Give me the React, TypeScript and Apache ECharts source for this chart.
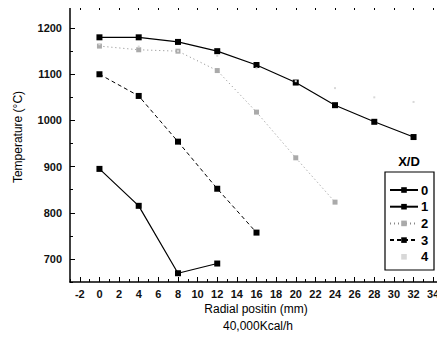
import React, { useEffect, useRef } from "react";
import * as echarts from "echarts";

const seriesNames = ["0", "1", "2", "3", "4"];

const radial0 = [0, 4, 8, 12];
const temp0 = [895, 815, 669, 690];

const radial1 = [0, 4, 8, 12, 16, 20, 24, 28, 32];
const temp1 = [1180, 1180, 1170, 1150, 1120, 1082, 1033, 997, 964];

const radial2 = [0, 4, 8, 12, 16, 20, 24];
const temp2 = [1161, 1153, 1150, 1108, 1018, 919, 823];

const radial3 = [0, 4, 8, 12, 16];
const temp3 = [1100, 1053, 954, 852, 757];

const radial4 = [0, 4, 8, 12, 16, 20, 24, 28, 32];
const temp4 = [1165, 1160, 1150, 1140, 1113, 1085, 1070, 1050, 1040];

const xMajorTicks = [-2, 0, 2, 4, 6, 8, 10, 12, 14, 16, 18, 20, 22, 24, 26, 28, 30, 32, 34];
const xMinorTicks = [-3, -1, 1, 3, 5, 7, 9, 11, 13, 15, 17, 19, 21, 23, 25, 27, 29, 31, 33, 35];
const yMajorTicks = [700, 800, 900, 1000, 1100, 1200];
const yMinorTicks = [650, 750, 850, 950, 1050, 1150, 1250];
const yRightTicks = [650, 700, 750, 800, 850, 900, 950, 1000, 1050, 1100, 1150, 1200, 1250];

const FONT = "Liberation Sans, Arial, sans-serif";

const zip = (xs: number[], ys: number[]) => xs.map((x, i) => [x, ys[i]]);

export default function App() {
  const ref = useRef<HTMLDivElement>(null);
  useEffect(() => {
    if (!ref.current) return;
    const chart = echarts.init(ref.current, undefined, { renderer: "svg" });
    const axisLineStyle = { color: "#000", width: 1.5 };
    const tickStyle = { color: "#000", width: 1 };
    const xBase = { type: "value", min: -3, max: 35, splitLine: { show: false } };
    const yBase = { type: "value", min: 650, max: 1250, splitLine: { show: false } };
    const plain = (v: number) => String(v);
    chart.setOption({
      animation: false,
      textStyle: { fontFamily: FONT },
      grid: { left: 70, right: 2, top: 5, bottom: 59, containLabel: false },
      xAxis: [
        {
          ...xBase,
          position: "bottom",
          axisLine: { show: true, onZero: false, lineStyle: axisLineStyle },
          axisTick: { show: true, inside: true, length: 5, customValues: xMajorTicks, lineStyle: tickStyle },
          axisLabel: { show: true, customValues: xMajorTicks, formatter: plain, margin: 6, fontSize: 11, fontWeight: "bold", color: "#111", fontFamily: FONT },
        },
        {
          ...xBase,
          position: "bottom",
          axisLine: { show: false, onZero: false },
          axisTick: { show: true, inside: true, length: 3, customValues: xMinorTicks, lineStyle: tickStyle },
          axisLabel: { show: false },
        },
        {
          ...xBase,
          position: "top",
          axisLine: { show: true, onZero: false, lineStyle: axisLineStyle },
          axisTick: { show: true, inside: true, length: 5, customValues: xMajorTicks, lineStyle: tickStyle },
          axisLabel: { show: false },
        },
        {
          ...xBase,
          position: "top",
          axisLine: { show: false, onZero: false },
          axisTick: { show: true, inside: true, length: 3, customValues: xMinorTicks, lineStyle: tickStyle },
          axisLabel: { show: false },
        },
      ],
      yAxis: [
        {
          ...yBase,
          position: "left",
          axisLine: { show: true, onZero: false, lineStyle: axisLineStyle },
          axisTick: { show: true, inside: true, length: 5, customValues: yMajorTicks, lineStyle: tickStyle },
          axisLabel: { show: true, customValues: yMajorTicks, formatter: plain, margin: 8, fontSize: 11, fontWeight: "bold", color: "#111", fontFamily: FONT },
        },
        {
          ...yBase,
          position: "left",
          axisLine: { show: false, onZero: false },
          axisTick: { show: true, inside: true, length: 3, customValues: yMinorTicks, lineStyle: tickStyle },
          axisLabel: { show: false },
        },
        {
          ...yBase,
          position: "right",
          axisLine: { show: true, onZero: false, lineStyle: axisLineStyle },
          axisTick: { show: true, inside: true, length: 4, customValues: yRightTicks, lineStyle: tickStyle },
          axisLabel: { show: false },
        },
      ],
      legend: {
        data: seriesNames,
        orient: "vertical",
        left: 389,
        top: 183,
        padding: 0,
        itemWidth: 28,
        itemHeight: 7,
        itemGap: 2.7,
        align: "left",
        textStyle: { fontSize: 13, fontWeight: "bold", color: "#000", fontFamily: FONT, lineHeight: 14, padding: [0, 0, 0, -2] },
      },
      graphic: [
        {
          type: "rect",
          shape: { x: 385, y: 172, width: 49, height: 98 },
          style: { fill: "none", stroke: "#000", lineWidth: 1.2 },
          z: 10,
        },
        {
          type: "text",
          x: 409,
          y: 161,
          style: { text: "X/D", fontSize: 13, fontWeight: "bold", fill: "#000", fontFamily: FONT, align: "center", verticalAlign: "middle" },
        },
        {
          type: "text",
          x: 18,
          y: 137,
          rotation: Math.PI / 2,
          style: { text: "Temperature (°C)", fontSize: 12, fill: "#000", fontFamily: FONT, align: "center", verticalAlign: "middle" },
        },
        {
          type: "text",
          x: 256,
          y: 309,
          style: { text: "Radial positin (mm)", fontSize: 12, fill: "#000", fontFamily: FONT, align: "center", verticalAlign: "middle" },
        },
        {
          type: "text",
          x: 258,
          y: 326,
          style: { text: "40,000Kcal/h", fontSize: 12, fill: "#000", fontFamily: FONT, align: "center", verticalAlign: "middle" },
        },
      ],
      series: [
        {
          name: "0",
          type: "line",
          data: zip(radial0, temp0),
          symbol: "rect",
          symbolSize: 6,
          itemStyle: { color: "#000" },
          lineStyle: { color: "#000", width: 1.2 },
        },
        {
          name: "1",
          type: "line",
          data: zip(radial1, temp1),
          symbol: "rect",
          symbolSize: 6,
          itemStyle: { color: "#000" },
          lineStyle: { color: "#000", width: 1.2 },
        },
        {
          name: "2",
          type: "line",
          data: zip(radial2, temp2),
          symbol: "rect",
          symbolSize: 5,
          itemStyle: { color: "#aaa" },
          lineStyle: { color: "#888", width: 1, type: [1, 3] },
        },
        {
          name: "3",
          type: "line",
          data: zip(radial3, temp3),
          symbol: "rect",
          symbolSize: 6,
          itemStyle: { color: "#000" },
          lineStyle: { color: "#000", width: 1, type: [4, 3] },
        },
        {
          name: "4",
          type: "line",
          data: zip(radial4, temp4),
          symbol: "rect",
          symbolSize: 2,
          itemStyle: { color: "#d8d8d8" },
          lineStyle: { color: "#eee", width: 1, opacity: 0 },
        },
      ],
    });
    return () => chart.dispose();
  }, []);
  return <div ref={ref} style={{ width: 445, height: 341, margin: -8 }} />;
}
